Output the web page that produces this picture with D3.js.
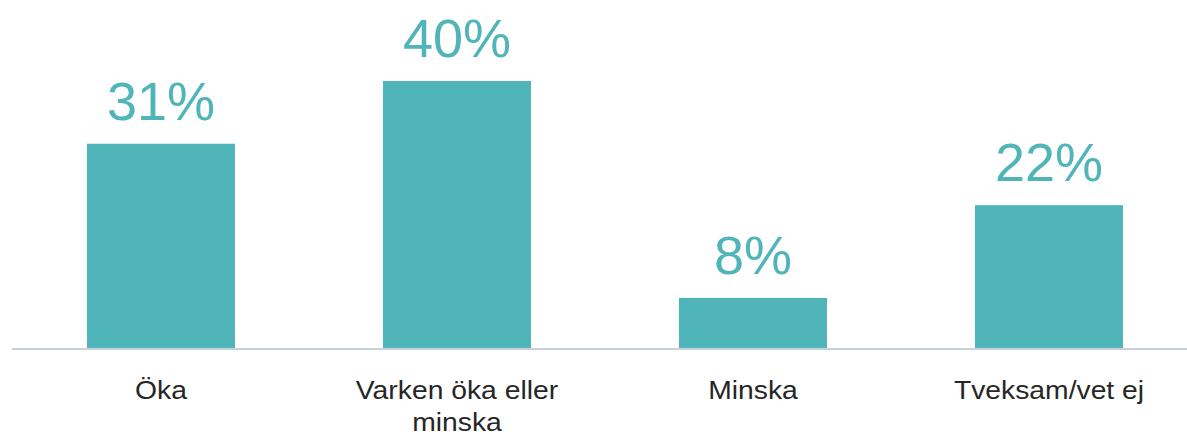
<!DOCTYPE html>
<html>
<head>
<meta charset="utf-8">
<script src="https://cdn.jsdelivr.net/npm/d3@7"></script>
<style>
  html, body { margin: 0; padding: 0; background: #fff; }
  svg { display: block; }
  text { font-family: "Liberation Sans", Arial, Helvetica, sans-serif; }
</style>
</head>
<body>
<svg id="chart" width="1187" height="437"></svg>
<script>
const categories = ["Öka", "Varken öka eller minska", "Minska", "Tveksam/vet ej"];
const values = [30.6, 40, 7.5, 21.4];
const valueLabels = ["31%", "40%", "8%", "22%"];

const svg = d3.select("#chart");
const barColor = "#50b5b9";

const x = d3.scaleBand()
  .domain(categories)
  .range([13, 1197])
  .paddingInner(0.5)
  .paddingOuter(0.25);

const y = d3.scaleLinear()
  .domain([0, 40])
  .range([348, 81]);

// bars
svg.append("g").selectAll("rect")
  .data(categories)
  .join("rect")
  .attr("x", d => x(d))
  .attr("y", (d, i) => y(values[i]))
  .attr("width", x.bandwidth())
  .attr("height", (d, i) => y(0) - y(values[i]))
  .attr("fill", barColor);

// value labels
svg.append("g").selectAll("text")
  .data(categories)
  .join("text")
  .attr("x", d => x(d) + x.bandwidth() / 2)
  .attr("y", (d, i) => y(values[i]) - 24)
  .attr("text-anchor", "middle")
  .attr("font-size", 54)
  .attr("fill", barColor)
  .text((d, i) => valueLabels[i]);

// axis
const axis = svg.append("g")
  .attr("transform", "translate(0,349)")
  .call(d3.axisBottom(x).tickSize(0).tickSizeOuter(0).tickFormat(""));
axis.select(".domain")
  .attr("stroke", "#c8d2de")
  .attr("stroke-width", 2)
  .attr("d", "M12,0H1187");

// category labels with wrapping
const labelG = svg.append("g");
categories.forEach(c => {
  const g = labelG.append("g")
    .attr("transform", `translate(${x(c) + x.bandwidth() / 2},398.5) scale(1.11,1)`);
  const t = g.append("text")
    .attr("text-anchor", "middle")
    .attr("font-size", 25.5)
    .attr("fill", "#262626");
  const words = c.split(" ");
  let line = [];
  let lineNo = 0;
  let tspan = t.append("tspan").attr("x", 0).attr("y", 0);
  words.forEach(w => {
    line.push(w);
    tspan.text(line.join(" "));
    if (tspan.node().getComputedTextLength() > 210 && line.length > 1) {
      line.pop();
      tspan.text(line.join(" "));
      line = [w];
      lineNo++;
      tspan = t.append("tspan").attr("x", 0).attr("y", lineNo * 33).text(w);
    }
  });
});
</script>
</body>
</html>
